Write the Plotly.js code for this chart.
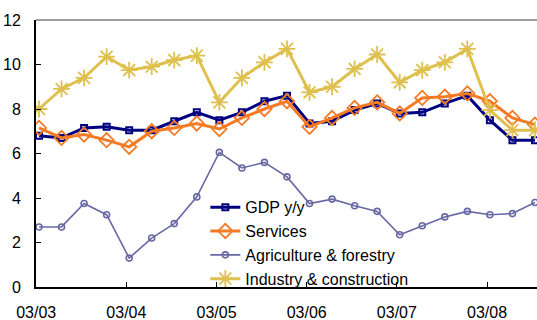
<!DOCTYPE html>
<html>
<head>
<meta charset="utf-8">
<script src="https://cdn.plot.ly/plotly-3.0.1.min.js"></script>
<style>
  html, body { margin: 0; padding: 0; background: #ffffff; }
  #chart { width: 537px; height: 320px; }
</style>
</head>
<body>
<div id="chart"></div>
<script>
// Quarterly observations, Q1 2003 .. Q3 2008 (year-on-year growth, %)
const quarters = ['Q1 03','Q2 03','Q3 03','Q4 03','Q1 04','Q2 04','Q3 04','Q4 04',
                  'Q1 05','Q2 05','Q3 05','Q4 05','Q1 06','Q2 06','Q3 06','Q4 06',
                  'Q1 07','Q2 07','Q3 07','Q4 07','Q1 08','Q2 08','Q3 08'];

const gdp         = [6.8, 6.7, 7.15, 7.2, 7.05, 7.05, 7.45, 7.85, 7.5, 7.85, 8.35, 8.6,
                     7.35, 7.45, 7.95, 8.25, 7.8, 7.85, 8.25, 8.6, 7.5, 6.6, 6.6];
const services    = [7.15, 6.7, 6.85, 6.6, 6.3, 7.0, 7.15, 7.35, 7.1, 7.6, 8.0, 8.35,
                     7.2, 7.6, 8.05, 8.3, 7.8, 8.5, 8.55, 8.7, 8.35, 7.6, 7.3];
const agriculture = [2.7, 2.7, 3.75, 3.25, 1.3, 2.2, 2.85, 4.05, 6.05, 5.35, 5.6, 4.95,
                     3.75, 3.95, 3.65, 3.4, 2.35, 2.75, 3.15, 3.4, 3.25, 3.3, 3.8];
const industry    = [8.0, 8.9, 9.4, 10.35, 9.75, 9.9, 10.2, 10.4, 8.3, 9.4, 10.1, 10.7,
                     8.75, 9.0, 9.8, 10.45, 9.2, 9.75, 10.1, 10.7, 7.95, 7.05, 7.05];

// Year labels on the time axis (one per first quarter)
const yearLabels = ['03/03', '03/04', '03/05', '03/06', '03/07', '03/08'];

const xIdx = quarters.map((_, i) => i);
const tickPos = yearLabels.map((_, k) => 4 * k - 0.125);

const FONT = 'Liberation Sans, Arial, sans-serif';

const traces = [
  {
    name: 'GDP y/y', x: xIdx, y: gdp, type: 'scatter', mode: 'lines+markers',
    line: { color: '#000080', width: 3 },
    marker: { symbol: 'square-open', size: 6, color: '#000080', line: { width: 2 } }
  },
  {
    name: 'Services', x: xIdx, y: services, type: 'scatter', mode: 'lines+markers',
    line: { color: '#F47A24', width: 3 },
    marker: { symbol: 'diamond-open', size: 11, color: '#F47A24', line: { width: 1.8 } }
  },
  {
    name: 'Agriculture & forestry', x: xIdx, y: agriculture, type: 'scatter', mode: 'lines+markers',
    line: { color: '#6868A4', width: 1.6 },
    marker: { symbol: 'circle-open', size: 6, color: '#6868A4', line: { width: 1.6 } }
  },
  {
    name: 'Industry & construction', x: xIdx, y: industry, type: 'scatter', mode: 'lines+markers',
    line: { color: '#DFC04E', width: 3 },
    marker: { symbol: 'asterisk-open', size: 14, color: '#DFC04E', line: { width: 1.8, color: '#DFC04E' } }
  }
];

const layout = {
  width: 537, height: 320,
  margin: { l: 36, r: 0, t: 20, b: 33, pad: 0 },
  paper_bgcolor: '#ffffff', plot_bgcolor: '#ffffff',
  font: { family: FONT, size: 16, color: '#000000' },
  showlegend: true,
  legend: {
    x: 0.338, xanchor: 'left', y: 0.362, yanchor: 'top',
    bgcolor: 'rgba(0,0,0,0)', borderwidth: 0,
    font: { family: FONT, size: 16, color: '#000000' },
    tracegroupgap: 0
  },
  xaxis: {
    range: [-0.133, 22.09], showgrid: false, zeroline: false,
    showline: true, linecolor: '#000000', linewidth: 2,
    tickmode: 'array', tickvals: tickPos, ticktext: yearLabels,
    ticks: 'inside', ticklen: 5, tickcolor: '#000000', tickwidth: 1,
    ticklabelstandoff: 10,
    tickfont: { family: FONT, size: 16, color: '#000000' }
  },
  yaxis: {
    range: [0, 12], dtick: 2, tick0: 0, showgrid: false, zeroline: false,
    showline: true, linecolor: '#000000', linewidth: 2,
    ticks: 'inside', ticklen: 5, tickcolor: '#000000', tickwidth: 1,
    ticklabelstandoff: 10,
    tickfont: { family: FONT, size: 16, color: '#000000' }
  },
  shapes: [
    { type: 'line', xref: 'paper', yref: 'paper', x0: 0, x1: 1, y0: 1, y1: 1,
      line: { color: '#808080', width: 1.5 } }
  ]
};

Plotly.newPlot('chart', traces, layout, { displayModeBar: false, staticPlot: true });
</script>
</body>
</html>
